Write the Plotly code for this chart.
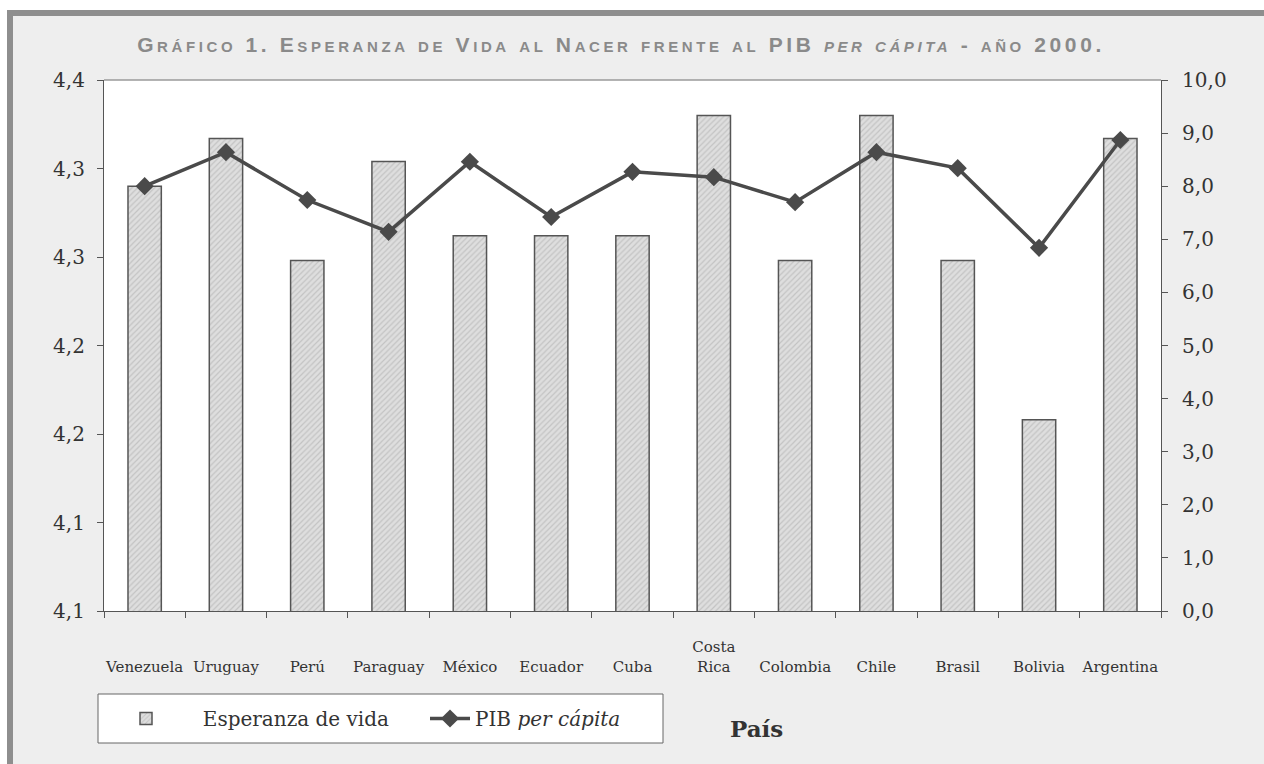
import plotly.graph_objects as go

# ---------------- data ----------------
paises = ["Venezuela", "Uruguay", "Perú", "Paraguay", "México", "Ecuador", "Cuba",
          "Costa Rica", "Colombia", "Chile", "Brasil", "Bolivia", "Argentina"]
etiquetas_x = [" <br>Venezuela", " <br>Uruguay", " <br>Perú", " <br>Paraguay", " <br>México",
               " <br>Ecuador", " <br>Cuba", "Costa<br>Rica", " <br>Colombia", " <br>Chile",
               " <br>Brasil", " <br>Bolivia", " <br>Argentina"]
esperanza_vida = [4.340, 4.367, 4.298, 4.354, 4.312, 4.312, 4.312, 4.380, 4.298, 4.380, 4.298, 4.208, 4.367]
pib_per_capita = [8.00, 8.64, 7.74, 7.14, 8.46, 7.42, 8.27, 8.17, 7.70, 8.64, 8.34, 6.84, 8.87]

ticks_izq = [4.10, 4.15, 4.20, 4.25, 4.30, 4.35, 4.40]
etiquetas_izq = ["4,1", "4,1", "4,2", "4,2", "4,3", "4,3", "4,4"]
ticks_der = [0, 1, 2, 3, 4, 5, 6, 7, 8, 9, 10]
etiquetas_der = ["0,0", "1,0", "2,0", "3,0", "4,0", "5,0", "6,0", "7,0", "8,0", "9,0", "10,0"]

# ---------------- layout geometry ----------------
W, H = 1264, 764
L, R, T, B = 104, 103, 80, 153
PW, PH = W - L - R, H - T - B


def px(x):
    return (x - L) / PW


def py(y):
    return (H - B - y) / PH


SERIF = "DejaVu Serif, Liberation Serif, serif"
TXT = "#333333"
DARK = "#4a4a4a"
NB = "\u00a0"

fig = go.Figure()

fig.add_trace(go.Bar(
    x=paises, y=esperanza_vida, name=NB * 5 + "Esperanza de vida",
    marker=dict(color="#dcdcdc",
                line=dict(color="#555555", width=1.5),
                pattern=dict(shape="/", fgcolor="#a8a8a8", bgcolor="#dedede", size=4, solidity=0.3)),
    yaxis="y",
))

fig.add_trace(go.Scatter(
    x=paises, y=pib_per_capita, name="PIB <i>per cápita</i>", mode="lines+markers",
    line=dict(color=DARK, width=3.5),
    marker=dict(symbol="diamond", size=14, color=DARK),
    yaxis="y2",
))

shapes = [
    # white margin outside frame
    dict(type="rect", xref="paper", yref="paper", x0=px(0), x1=px(W), y0=py(0), y1=py(10),
         fillcolor="white", line_width=0, layer="below"),
    dict(type="rect", xref="paper", yref="paper", x0=px(0), x1=px(7), y0=py(0), y1=py(H),
         fillcolor="white", line_width=0, layer="below"),
    # gray frame stripes
    dict(type="rect", xref="paper", yref="paper", x0=px(7), x1=px(W), y0=py(10), y1=py(16),
         fillcolor="#8e8e8e", line_width=0, layer="below"),
    dict(type="rect", xref="paper", yref="paper", x0=px(7), x1=px(13), y0=py(10), y1=py(H),
         fillcolor="#8e8e8e", line_width=0, layer="below"),
    # top border of plot area
    dict(type="line", xref="paper", yref="paper", x0=0, x1=1, y0=1, y1=1,
         line=dict(color="#9a9a9a", width=1.5)),
    # legend box
    dict(type="rect", xref="paper", yref="paper", x0=px(98), x1=px(663), y0=py(694), y1=py(743),
         fillcolor="white", line=dict(color="#666666", width=1), layer="above"),
]

titulo = ("<span style='letter-spacing:3.6px'>Gráfico 1. Esperanza de Vida al Nacer frente al PIB "
          "<i>per cápita</i> - año 2000.</span>")

fig.update_layout(
    width=W, height=H,
    margin=dict(l=L, r=R, t=T, b=B, autoexpand=False),
    paper_bgcolor="#eeeeee",
    plot_bgcolor="white",
    bargap=0.59,
    showlegend=True,
    title=dict(
        text=titulo,
        x=px(621), xanchor="center", xref="paper",
        y=1 - 45 / H, yanchor="middle",
        font=dict(family="Liberation Sans, Arial, sans-serif", size=21, color="#8a8a8a",
                  weight="bold", variant="small-caps"),
    ),
    xaxis=dict(
        type="category", categoryorder="array", categoryarray=paises,
        range=[-0.5, 12.5],
        tickmode="array", tickvals=paises, ticktext=etiquetas_x, tickangle=0,
        tickson="boundaries", ticks="outside", ticklen=6, tickcolor="#555555",
        showline=True, linecolor="#555555", linewidth=1.2,
        showgrid=False, ticklabelstandoff=22,
        tickfont=dict(family=SERIF, size=15, color=TXT),
    ),
    yaxis=dict(
        range=[4.10, 4.40], tickmode="array", tickvals=ticks_izq, ticktext=etiquetas_izq,
        ticks="outside", ticklen=6, tickcolor="#555555",
        showline=True, linecolor="#555555", linewidth=1.2,
        showgrid=False, zeroline=False, ticklabelstandoff=8,
        tickfont=dict(family=SERIF, size=20, color=TXT),
    ),
    yaxis2=dict(
        range=[0, 10], overlaying="y", side="right",
        tickmode="array", tickvals=ticks_der, ticktext=etiquetas_der,
        ticks="outside", ticklen=6, tickcolor="#555555",
        showline=True, linecolor="#555555", linewidth=1.2,
        showgrid=False, zeroline=False, ticklabelstandoff=10,
        tickfont=dict(family=SERIF, size=20, color=TXT),
    ),
    legend=dict(
        orientation="h", x=px(121), xanchor="left", y=py(718.5), yanchor="middle",
        bgcolor="rgba(0,0,0,0)", borderwidth=0,
        font=dict(family=SERIF, size=20, color=TXT),
        entrywidth=249, entrywidthmode="pixels",
        itemwidth=40, traceorder="normal",
    ),
    annotations=[
        dict(text="<b>País</b>", xref="paper", yref="paper", x=px(756), y=py(728),
             xanchor="center", yanchor="middle", showarrow=False,
             font=dict(family=SERIF, size=23, color=TXT)),
    ],
    shapes=shapes,
)

fig.write_html("out.html", config={"displayModeBar": False},
               post_script="document.body.style.margin='0px';")
